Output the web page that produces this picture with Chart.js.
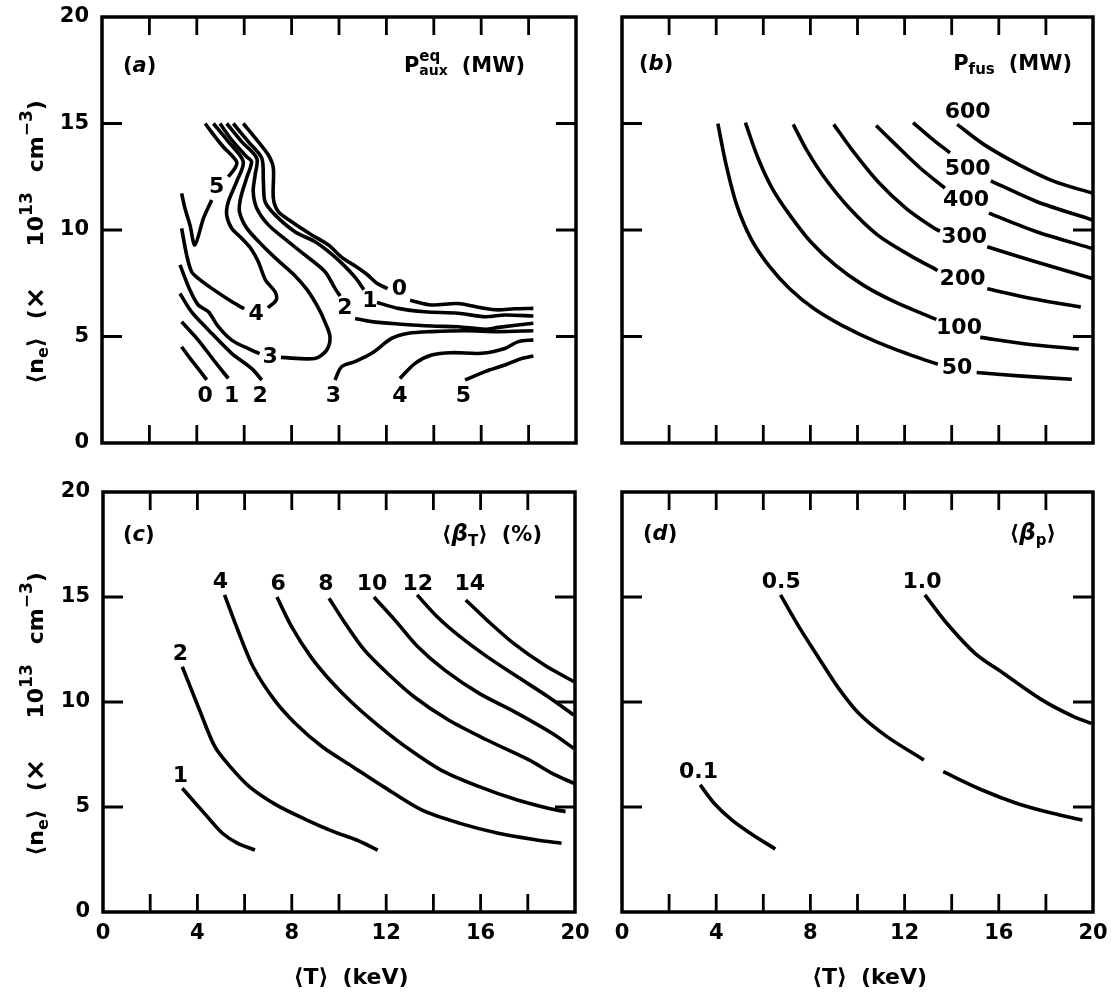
<!DOCTYPE html>
<html>
<head>
<meta charset="utf-8">
<script src="https://cdn.jsdelivr.net/npm/chart.js@4.4.0/dist/chart.umd.min.js"></script>
<style>
  html, body { margin: 0; padding: 0; background: #fff; }
  #wrap { position: relative; width: 1111px; height: 995px; overflow: hidden; }
  canvas { position: absolute; }
</style>
</head>
<body>
<div id="wrap">
  <canvas id="pa" width="600" height="480" style="left:0;top:-10px"></canvas>
  <canvas id="pb" width="511" height="470" style="left:600px;top:0"></canvas>
  <canvas id="pc" width="600" height="535" style="left:0;top:460px"></canvas>
  <canvas id="pd" width="521" height="525" style="left:600px;top:470px"></canvas>
</div>
<script>
// x = <T> (keV), y = <n_e> (10^13 cm^-3); null = gap where a contour label sits

// ---- (a) equilibrium auxiliary power P_aux^eq (MW) ----
const aux0LowT = [3.36, 3.70, 4.05, 4.42];
const aux0LowN = [4.52, 4.00, 3.50, 2.96];
const aux1LowT = [3.36, 4.06, 4.77, 5.33];
const aux1LowN = [5.69, 4.83, 3.81, 3.03];
const aux2LowT = [3.29, 3.78, 4.49, 5.47, 6.31, 6.74];
const aux2LowN = [7.02, 6.16, 5.31, 4.21, 3.50, 2.96];
const aux0T = [5.96, 6.53, 7.02, 7.23, 7.23, 7.44, 8.00, 8.85, 9.55, 10.13, 10.70, 11.20, 11.60, 12.05, null, 13.00, 13.90, 15.00, 16.10, 16.70, 17.40, 18.20];
const aux0N = [15.0, 14.23, 13.52, 12.90, 11.49, 10.86, 10.39, 9.77, 9.30, 8.70, 8.30, 7.90, 7.50, 7.25, null, 6.70, 6.48, 6.55, 6.33, 6.25, 6.30, 6.32];
const aux1T = [5.54, 6.17, 6.74, 6.81, 6.88, 7.30, 8.14, 8.99, 9.60, 10.20, 10.70, 11.05, null, 11.60, 12.50, 13.63, 15.03, 16.16, 17.00, 18.20];
const aux1N = [15.0, 14.15, 13.37, 12.27, 11.33, 10.71, 9.92, 9.45, 8.95, 8.35, 7.75, 7.20, null, 6.60, 6.32, 6.16, 6.09, 5.93, 6.01, 5.96];
const aux2T = [5.26, 5.89, 6.53, 6.46, 6.38, 6.53, 7.02, 7.86, 8.56, 9.41, 9.83, 10.05, null, 10.68, 11.38, 12.50, 13.91, 15.03, 16.16, 16.72, 18.20];
const aux2N = [15.0, 14.15, 13.37, 12.58, 11.80, 11.02, 10.24, 9.45, 8.83, 8.04, 7.26, 6.90, null, 5.85, 5.70, 5.59, 5.49, 5.46, 5.34, 5.43, 5.62];
const aux3T = [3.29, 3.71, 4.06, 4.49, 4.91, 5.47, 6.31, 6.65, null, 7.55, 8.99, 9.48, 9.62, 9.40, 9.10, 8.65, 8.10, 7.40, 6.75, 6.10, 5.80, 5.85, 6.10, 6.31, 6.10, 5.47, 4.98];
const aux3N = [8.36, 7.18, 6.48, 6.16, 5.46, 4.83, 4.36, 4.20, null, 4.02, 3.97, 4.36, 4.99, 5.70, 6.40, 7.20, 7.90, 8.60, 9.30, 10.10, 10.86, 11.50, 12.43, 13.21, 13.44, 14.23, 15.0];
const aux4T = [3.36, 3.57, 3.78, 4.06, 4.63, 5.47, 6.00, null, 7.00, 7.35, 7.30, 6.90, 6.60, 6.30, 5.90, 5.47, 5.26, 5.33, 5.68, 5.96, 5.33, 4.70];
const aux4N = [10.08, 8.83, 8.04, 7.73, 7.26, 6.64, 6.30, null, 6.35, 6.71, 7.10, 7.65, 8.50, 9.10, 9.60, 10.08, 10.71, 11.33, 12.27, 13.21, 14.15, 15.0];
const aux5T = [4.35, 5.05, 5.68, 5.61, 5.33, null, 4.63, 4.28, 3.92, 3.71, 3.50, 3.36];
const aux5N = [15.0, 13.99, 13.21, 12.90, 12.50, null, 11.41, 10.55, 9.30, 10.24, 11.02, 11.72];
const aux3RT = [9.83, 10.11, 10.67, 11.38, 12.22, 12.93, 13.91, 15.32, 16.72, 18.20];
const aux3RN = [2.96, 3.58, 3.82, 4.21, 4.91, 5.15, 5.23, 5.27, 5.23, 5.27];
const aux4RT = [12.57, 13.21, 13.91, 14.75, 16.02, 17.00, 17.57, 18.20];
const aux4RN = [3.03, 3.74, 4.13, 4.24, 4.21, 4.44, 4.76, 4.84];
const aux5RT = [15.32, 16.16, 17.00, 17.71, 18.20];
const aux5RN = [2.96, 3.35, 3.66, 3.97, 4.08];
const auxLabels = ['5', '4', '3', '2', '1', '0', '0', '1', '2', '3', '4', '5'];
const auxLabelT = [4.84, 6.50, 7.09, 10.25, 11.30, 12.55, 4.35, 5.47, 6.67, 9.76, 12.57, 15.25];
const auxLabelN = [12.04, 6.10, 4.05, 6.35, 6.70, 7.25, 2.25, 2.25, 2.25, 2.25, 2.25, 2.25];

// ---- (b) fusion power P_fus (MW) ----
const fus50T = [4.07, 4.42, 4.87, 5.47, 6.22, 7.12, 8.16, 9.36, 10.86, 12.36, 13.41, null, 15.06, 16.85, 19.10];
const fus50N = [14.99, 13.07, 11.18, 9.61, 8.35, 7.24, 6.30, 5.51, 4.72, 4.09, 3.70, null, 3.31, 3.15, 2.99];
const fus100T = [5.24, 5.77, 6.37, 7.12, 8.01, 9.06, 10.26, 11.61, 12.96, 13.35, null, 15.21, 17.15, 19.40];
const fus100N = [15.04, 13.39, 11.97, 10.71, 9.45, 8.35, 7.40, 6.61, 5.98, 5.80, null, 4.96, 4.65, 4.41];
const fus200T = [7.27, 7.87, 8.61, 9.66, 10.86, 12.21, 13.40, null, 15.51, 17.45, 19.48];
const fus200N = [14.96, 13.70, 12.44, 11.02, 9.76, 8.82, 8.10, null, 7.24, 6.77, 6.38];
const fus300T = [8.99, 9.81, 10.86, 12.06, 13.26, 13.50, null, 15.51, 17.60, 19.97];
const fus300N = [14.96, 13.70, 12.28, 11.02, 10.08, 9.95, null, 9.21, 8.50, 7.72];
const fus400T = [10.79, 11.61, 12.66, 13.71, null, 15.58, 17.60, 19.97];
const fus400N = [14.91, 14.02, 12.91, 11.97, null, 10.79, 9.92, 9.13];
const fus500T = [12.36, 13.11, 13.93, null, 15.66, 17.60, 19.97];
const fus500N = [15.04, 14.33, 13.62, null, 12.31, 11.34, 10.47];
const fus600T = [14.23, 15.36, 16.85, 18.35, 19.97];
const fus600N = [14.96, 14.02, 13.07, 12.28, 11.73];
const fusLabels = ['50', '100', '200', '300', '400', '500', '600'];
const fusLabelT = [14.23, 14.31, 14.46, 14.53, 14.61, 14.68, 14.68];
const fusLabelN = [3.54, 5.43, 7.72, 9.69, 11.42, 12.91, 15.59];

// ---- (c) toroidal beta <beta_T> (%) ----
const bt1T = [3.36, 4.42, 5.06, 5.71, 6.44];
const bt1N = [5.89, 4.54, 3.75, 3.27, 2.95];
const bt2T = [3.36, 4.09, 4.74, 5.39, 6.20, 7.34, 8.64, 9.77, 10.75, 11.64];
const bt2N = [11.68, 9.62, 7.87, 6.92, 5.97, 5.10, 4.38, 3.83, 3.43, 2.95];
const bt4T = [5.15, 5.71, 6.36, 7.26, 8.15, 9.29, 10.58, 11.88, 13.50, 15.13, 16.75, 18.38, 19.43];
const bt4N = [15.10, 13.43, 11.68, 10.10, 8.98, 7.87, 6.92, 5.97, 4.86, 4.22, 3.75, 3.43, 3.27];
const bt6T = [7.37, 7.99, 8.80, 9.61, 10.58, 11.72, 13.02, 14.32, 15.94, 17.56, 18.86, 19.60];
const bt6N = [15.00, 13.59, 12.16, 11.05, 9.94, 8.83, 7.71, 6.76, 5.97, 5.33, 4.94, 4.78];
const bt8T = [9.58, 10.26, 11.07, 12.05, 13.18, 14.64, 16.27, 18.05, 19.03, 19.95];
const bt8N = [14.94, 13.75, 12.48, 11.37, 10.25, 9.14, 8.19, 7.24, 6.60, 6.13];
const bt10T = [11.48, 12.37, 13.34, 14.48, 15.94, 17.56, 19.03, 19.95];
const bt10N = [15.00, 13.90, 12.63, 11.52, 10.41, 9.46, 8.51, 7.79];
const bt12T = [13.31, 14.16, 15.13, 16.27, 17.56, 18.86, 19.95];
const bt12N = [15.10, 14.06, 13.11, 12.16, 11.20, 10.25, 9.38];
const bt14T = [15.37, 16.27, 17.40, 18.70, 19.95];
const bt14N = [14.86, 13.90, 12.79, 11.76, 10.97];
const btLabels = ['1', '2', '4', '6', '8', '10', '12', '14'];
const btLabelT = [3.28, 3.28, 4.98, 7.42, 9.45, 11.40, 13.34, 15.54];
const btLabelN = [6.52, 12.30, 15.73, 15.65, 15.65, 15.65, 15.65, 15.65];

// ---- (d) poloidal beta <beta_p> ----
const bp01T = [3.32, 3.92, 4.67, 5.56, 6.51];
const bp01N = [6.05, 5.17, 4.38, 3.67, 3.00];
const bp05T = [6.73, 7.51, 8.41, 9.15, 10.05, 11.25, 12.82, null, 13.64, 15.29, 16.78, 18.28, 19.55];
const bp05N = [15.10, 13.59, 12.00, 10.73, 9.46, 8.35, 7.24, null, 6.68, 5.81, 5.17, 4.70, 4.38];
const bp10T = [12.86, 13.79, 14.99, 16.19, 17.83, 19.18, 19.93];
const bp10N = [15.10, 13.75, 12.32, 11.37, 10.10, 9.30, 8.98];
const bpLabels = ['0.1', '0.5', '1.0'];
const bpLabelT = [3.25, 6.76, 12.74];
const bpLabelN = [6.68, 15.73, 15.73];

// axis ticks
const xTickStep = 4, xMarkStep = 2;
const yTickStep = 5;

const FONT = "'DejaVu Sans', 'Liberation Sans', sans-serif";
Chart.defaults.font.family = FONT;
Chart.defaults.color = '#000';

function fontFor(p, base) {
  return (p.i ? 'italic ' : '') + 'bold ' + (p.s || base) + 'px ' + FONT;
}

// text with sub/superscripts: parts [{t, s, dy, i, stack, gap}]
function drawRich(ctx, parts, x, y, align, base) {
  let total = 0, prevW = 0;
  parts.forEach(p => {
    if (p.gap) { total += p.gap; prevW = 0; return; }
    ctx.font = fontFor(p, base);
    const w = ctx.measureText(p.t).width;
    if (p.stack) { total += Math.max(0, w - prevW); prevW = Math.max(w, prevW); }
    else { total += w; prevW = w; }
  });
  let cx = align === 'right' ? x - total : align === 'center' ? x - total / 2 : x;
  let px = cx, pw = 0;
  ctx.textAlign = 'left';
  ctx.textBaseline = 'alphabetic';
  parts.forEach(p => {
    if (p.gap) { cx += p.gap; px = cx; pw = 0; return; }
    ctx.font = fontFor(p, base);
    const w = ctx.measureText(p.t).width;
    if (p.stack) {
      ctx.fillText(p.t, px, y + (p.dy || 0));
      cx = px + Math.max(pw, w);
    } else {
      ctx.fillText(p.t, cx, y + (p.dy || 0));
      px = cx; pw = w; cx += w;
    }
  });
}

const yTitleParts = [
  {t: '⟨n'}, {t: 'e', s: 16, dy: 5}, {t: '⟩'}, {gap: 18},
  {t: '('}, {t: '×', s: 27, dy: 1}, {gap: 40},
  {t: '10'}, {t: '13', s: 17, dy: -11}, {gap: 20},
  {t: 'cm'}, {t: '−3', s: 17, dy: -11}, {t: ')'}
];
const xTitleParts = [{t: '⟨T⟩'}, {gap: 14}, {t: '(keV)'}];

function curve(T, N) {
  return {
    data: T.map((t, i) => ({x: t, y: N[i]})),
    showLine: true,
    borderColor: '#000',
    borderWidth: 3.6,
    pointRadius: 0,
    tension: 0.3,
    fill: false
  };
}

function makePanel(cfg) {
  const paper = {
    id: 'paper',
    afterDatasetsDraw(chart) {
      const {ctx, chartArea: a} = chart;
      const sx = chart.scales.x, sy = chart.scales.y;
      ctx.save();
      ctx.strokeStyle = '#000';
      ctx.fillStyle = '#000';
      ctx.lineWidth = 3.5;
      ctx.strokeRect(a.left, a.top, a.right - a.left, a.bottom - a.top);
      // inward tick marks
      ctx.lineWidth = 2.8;
      ctx.beginPath();
      for (let v = xMarkStep; v < 20; v += xMarkStep) {
        const p = sx.getPixelForValue(v);
        ctx.moveTo(p, a.top); ctx.lineTo(p, a.top + 18);
        ctx.moveTo(p, a.bottom); ctx.lineTo(p, a.bottom - 18);
      }
      for (let v = yTickStep; v < 20; v += yTickStep) {
        const p = sy.getPixelForValue(v);
        ctx.moveTo(a.left, p); ctx.lineTo(a.left + 20, p);
        ctx.moveTo(a.right, p); ctx.lineTo(a.right - 20, p);
      }
      ctx.stroke();
      // contour labels
      ctx.font = 'bold 22px ' + FONT;
      ctx.textAlign = 'center';
      ctx.textBaseline = 'middle';
      cfg.labels.forEach((s, i) => {
        ctx.fillText(s, sx.getPixelForValue(cfg.labelT[i]), sy.getPixelForValue(cfg.labelN[i]) + 1);
      });
      // panel tag and quantity
      drawRich(ctx, [{t: '('}, {t: cfg.tag, i: 1}, {t: ')'}], a.left + cfg.tagDx, a.top + cfg.titleDy, 'left', 21);
      drawRich(ctx, cfg.title, a.right - cfg.titleDx, a.top + cfg.titleDy, 'right', 21);
      // axis titles
      if (cfg.yTitle) {
        ctx.save();
        ctx.translate(43, (a.top + a.bottom) / 2 + 12);
        ctx.rotate(-Math.PI / 2);
        drawRich(ctx, yTitleParts, 0, 0, 'center', 22);
        ctx.restore();
      }
      if (cfg.xTitle) {
        drawRich(ctx, xTitleParts, (a.left + a.right) / 2 + 12, a.bottom + 72, 'center', 22);
      }
      ctx.restore();
    }
  };

  new Chart(document.getElementById(cfg.id), {
    type: 'scatter',
    data: { datasets: cfg.curves.map(c => curve(c[0], c[1])) },
    options: {
      animation: false,
      responsive: false,
      devicePixelRatio: 1,
      events: [],
      layout: { padding: cfg.padding },
      plugins: { legend: { display: false }, tooltip: { enabled: false } },
      scales: {
        x: {
          type: 'linear', min: 0, max: 20, display: cfg.xTicks,
          grid: { display: false, drawTicks: false }, border: { display: false },
          ticks: { stepSize: xTickStep, padding: 9, maxRotation: 0, autoSkip: false,
                   font: { size: 21, weight: 'bold' } },
          afterFit: s => { if (cfg.xTicks) s.height = 83; }
        },
        y: {
          type: 'linear', min: 0, max: 20, display: cfg.yTicks,
          grid: { display: false, drawTicks: false }, border: { display: false },
          ticks: { stepSize: yTickStep, padding: 13, autoSkip: false,
                   font: { size: 21, weight: 'bold' } },
          afterFit: s => { if (cfg.yTicks) s.width = cfg.yWidth; }
        }
      }
    },
    plugins: [paper]
  });
}

makePanel({
  id: 'pa', xTicks: false, yTicks: true, yWidth: 102,
  padding: { left: 0, top: 27, right: 24, bottom: 27 },
  curves: [[aux0LowT, aux0LowN], [aux1LowT, aux1LowN], [aux2LowT, aux2LowN],
           [aux0T, aux0N], [aux1T, aux1N], [aux2T, aux2N], [aux3T, aux3N],
           [aux4T, aux4N], [aux5T, aux5N], [aux3RT, aux3RN], [aux4RT, aux4RN], [aux5RT, aux5RN]],
  labels: auxLabels, labelT: auxLabelT, labelN: auxLabelN,
  tag: 'a', tagDx: 21, titleDx: 51, titleDy: 55,
  title: [{t: 'P'}, {t: 'eq', s: 15, dy: -11}, {t: 'aux', s: 14, dy: 3, stack: true}, {gap: 14}, {t: '(MW)'}],
  yTitle: true, xTitle: false
});

makePanel({
  id: 'pb', xTicks: false, yTicks: false, yWidth: 0,
  padding: { left: 22, top: 17, right: 18, bottom: 27 },
  curves: [[fus50T, fus50N], [fus100T, fus100N], [fus200T, fus200N], [fus300T, fus300N],
           [fus400T, fus400N], [fus500T, fus500N], [fus600T, fus600N]],
  labels: fusLabels, labelT: fusLabelT, labelN: fusLabelN,
  tag: 'b', tagDx: 17, titleDx: 21, titleDy: 53,
  title: [{t: 'P'}, {t: 'fus', s: 15, dy: 4}, {gap: 14}, {t: '(MW)'}],
  yTitle: false, xTitle: false
});

makePanel({
  id: 'pc', xTicks: true, yTicks: true, yWidth: 103,
  padding: { left: 0, top: 32, right: 25, bottom: 0 },
  curves: [[bt1T, bt1N], [bt2T, bt2N], [bt4T, bt4N], [bt6T, bt6N],
           [bt8T, bt8N], [bt10T, bt10N], [bt12T, bt12N], [bt14T, bt14N]],
  labels: btLabels, labelT: btLabelT, labelN: btLabelN,
  tag: 'c', tagDx: 20, titleDx: 33, titleDy: 49,
  title: [{t: '⟨'}, {t: 'β', i: 1, s: 23}, {t: 'T', s: 15, dy: 5}, {t: '⟩'}, {gap: 14}, {t: '(%)'}],
  yTitle: true, xTitle: true
});

makePanel({
  id: 'pd', xTicks: true, yTicks: false, yWidth: 0,
  padding: { left: 22, top: 22, right: 28, bottom: 0 },
  curves: [[bp01T, bp01N], [bp05T, bp05N], [bp10T, bp10N]],
  labels: bpLabels, labelT: bpLabelT, labelN: bpLabelN,
  tag: 'd', tagDx: 21, titleDx: 37, titleDy: 48,
  title: [{t: '⟨'}, {t: 'β', i: 1, s: 23}, {t: 'p', s: 15, dy: 5}, {t: '⟩'}],
  yTitle: false, xTitle: true
});
</script>
</body>
</html>
